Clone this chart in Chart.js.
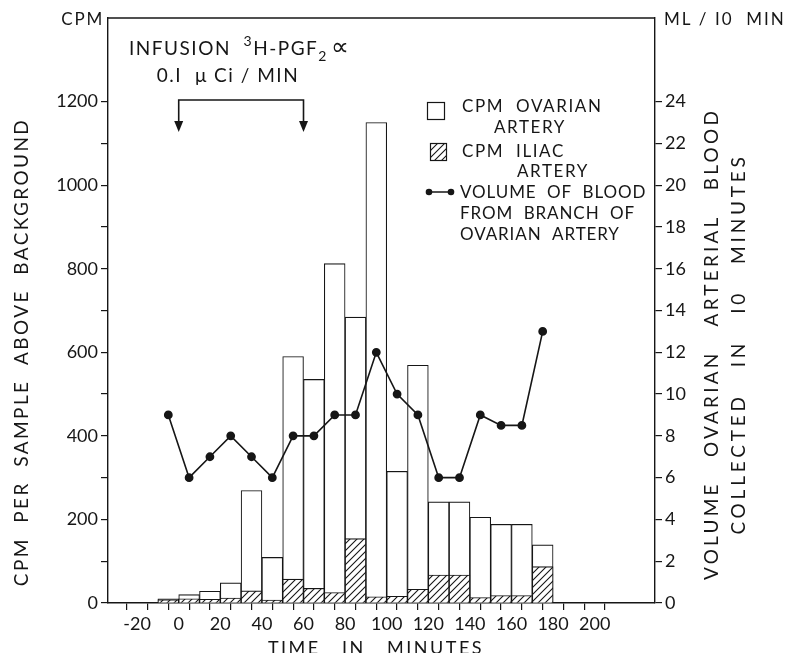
<!DOCTYPE html>
<html><head><meta charset="utf-8">
<script src="https://cdn.jsdelivr.net/npm/chart.js@4/dist/chart.umd.min.js"></script>
<style>html,body{margin:0;padding:0;background:#fff}#wrap{width:790px;height:653px}</style>
</head><body><div id="wrap"><canvas id="c" width="790" height="653"></canvas></div>
<script>
// ---- data ----
const intervalMid = [-5,5,15,25,35,45,55,65,75,85,95,105,115,125,135,145,155,165,175];
const cpmOvarian  = [10,20,28,48,269,109,590,535,812,684,1150,315,569,242,242,205,188,188,139];
const cpmIliac    = [8,10,9,12,29,7,57,35,25,154,15,16,33,67,67,13,18,18,87];
const bloodVolume = [9,6,7,8,7,6,8,8,9,9,12,10,9,6,6,9,8.5,8.5,13];
const xTickValues = [-20,-10,0,10,20,30,40,50,60,70,80,90,100,110,120,130,140,150,160,170,180,190,200];
const xLabelValues = [-20,0,20,40,60,80,100,120,140,160,180,200];
const leftTickValues = [0,100,200,300,400,500,600,700,800,900,1000,1100,1200];
const leftLabelValues = [0,200,400,600,800,1000,1200];
const rightTickValues = [0,2,4,6,8,10,12,14,16,18,20,22,24];
const infusionMinutes = [0,60];
const legendLabels = [["CPM  OVARIAN","ARTERY"],["CPM  ILIAC","ARTERY"],["VOLUME  OF  BLOOD","FROM  BRANCH  OF","OVARIAN  ARTERY"]];

const INK = '#161616';
const FONT = 'Lato, "DejaVu Sans", sans-serif';

function hatchPattern(){
  const s = 7;
  const p = document.createElement('canvas'); p.width = s; p.height = s;
  const g = p.getContext('2d');
  g.fillStyle = '#fff'; g.fillRect(0,0,s,s);
  g.strokeStyle = INK; g.lineWidth = 1.1;
  g.beginPath();
  g.moveTo(-1, s+1); g.lineTo(s+1, -1);
  g.moveTo(-1, 1); g.lineTo(1, -1);
  g.moveTo(s-1, s+1); g.lineTo(s+1, s-1);
  g.stroke();
  return g.createPattern(p, 'repeat');
}
const HATCH = hatchPattern();

const axisCommon = {
  border: {display:true, color: INK, width: 1.4},
  grid: {display:true, drawOnChartArea:false, drawTicks:true, tickLength:7, color: INK, lineWidth:1.2},
};

function drawText(ctx, txt, x, y, size, align, spacing){
  ctx.font = size + 'px ' + FONT;
  ctx.letterSpacing = (spacing||0) + 'px';
  ctx.textAlign = align || 'left';
  ctx.textBaseline = 'alphabetic';
  ctx.fillText(txt, x, y);
}

const decor = {
  id: 'decor',
  afterDraw(chart){
    const ctx = chart.ctx, a = chart.chartArea, xs = chart.scales.x;
    ctx.save();
    ctx.fillStyle = INK; ctx.strokeStyle = INK;
    // top frame
    ctx.lineWidth = 1.4;
    ctx.beginPath(); ctx.moveTo(a.left, a.top); ctx.lineTo(a.right, a.top); ctx.stroke();
    // axis unit labels
    drawText(ctx, 'CPM', a.left - 4, a.top + 7, 17, 'right', 1.8);
    drawText(ctx, 'ML / I0  MIN', a.right + 9, a.top + 7, 17, 'left', 2);
    // left title
    ctx.save(); ctx.translate(28, 352); ctx.rotate(-Math.PI/2);
    drawText(ctx, 'CPM  PER  SAMPLE  ABOVE  BACKGROUND', 0, 0, 19, 'center', 2.4);
    ctx.restore();
    // right title
    ctx.save(); ctx.translate(718, 344); ctx.rotate(-Math.PI/2);
    drawText(ctx, 'VOLUME   OVARIAN   ARTERIAL   BLOOD', 0, 0, 19, 'center', 3.2);
    drawText(ctx, 'COLLECTED   IN   I0   MINUTES', 0, 27, 19, 'center', 3.8);
    ctx.restore();
    // x title
    drawText(ctx, 'TIME   IN   MINUTES', 376, 654, 18, 'center', 2.5);
    // infusion annotation
    let x = 129, y = 55;
    const parts = [['INFUSION  ',19,0],['3',14,-9],['H-PGF',19,0],['2',14,6],['\u221D',25,0]];
    for (const [t,sz,dy] of parts){
      ctx.font = sz + 'px ' + FONT; ctx.letterSpacing = '1.5px'; ctx.textAlign='left';
      ctx.fillText(t, x, y + dy);
      x += ctx.measureText(t).width + (t==='2'?3:0);
    }
    drawText(ctx, '0.I  \u03BC Ci / MIN', 228, 82, 19, 'center', 1.5);
    const x0 = xs.getPixelForValue(infusionMinutes[0]);
    const x1 = xs.getPixelForValue(infusionMinutes[1]);
    ctx.lineWidth = 1.6;
    ctx.beginPath();
    ctx.moveTo(x0, 123); ctx.lineTo(x0, 100); ctx.lineTo(x1, 100); ctx.lineTo(x1, 123);
    ctx.stroke();
    for (const xp of [x0, x1]){
      ctx.beginPath(); ctx.moveTo(xp-4.5, 121); ctx.lineTo(xp+4.5, 121); ctx.lineTo(xp, 132); ctx.closePath(); ctx.fill();
    }
    // legend
    ctx.lineWidth = 1.2;
    ctx.fillStyle = '#fff'; ctx.fillRect(427, 102, 17, 17);
    ctx.strokeRect(427.5, 102.5, 17, 17);
    ctx.fillStyle = HATCH; ctx.fillRect(430, 143, 16, 17);
    ctx.strokeRect(430.5, 143.5, 16, 17);
    ctx.fillStyle = INK;
    ctx.lineWidth = 1.5;
    ctx.beginPath(); ctx.moveTo(429, 192); ctx.lineTo(451, 192); ctx.stroke();
    for (const cx of [429, 451]){ ctx.beginPath(); ctx.arc(cx, 192, 3.3, 0, Math.PI*2); ctx.fill(); }
    drawText(ctx, legendLabels[0][0], 462, 112, 17, 'left', 1.6);
    drawText(ctx, legendLabels[0][1], 494, 133, 17, 'left', 1.6);
    drawText(ctx, legendLabels[1][0], 462, 157, 17, 'left', 1.6);
    drawText(ctx, legendLabels[1][1], 517, 177, 17, 'left', 1.6);
    drawText(ctx, legendLabels[2][0], 460, 198, 17, 'left', 0.9);
    drawText(ctx, legendLabels[2][1], 460, 219, 17, 'left', 0.9);
    drawText(ctx, legendLabels[2][2], 460, 240, 17, 'left', 0.9);
    ctx.restore();
  }
};

const pts = (ys) => intervalMid.map((t,i) => ({x:t, y:ys[i]}));

new Chart(document.getElementById('c'), {
  type: 'bar',
  data: {
    datasets: [
      {type:'line', label:'Volume of blood', data: pts(bloodVolume), yAxisID:'y1', xAxisID:'x',
       borderColor: INK, borderWidth:1.6, pointRadius:3.6, pointBackgroundColor: INK, pointBorderColor: INK,
       tension:0, order:0},
      {label:'CPM iliac artery', data: pts(cpmIliac), yAxisID:'y', xAxisID:'x',
       backgroundColor: HATCH, borderColor: INK, borderWidth:1.1, grouped:false,
       barPercentage:1, categoryPercentage:1, order:1},
      {label:'CPM ovarian artery', data: pts(cpmOvarian), yAxisID:'y', xAxisID:'x',
       backgroundColor:'#fff', borderColor: INK, borderWidth:1.1, grouped:false,
       barPercentage:1, categoryPercentage:1, order:2}
    ]
  },
  options: {
    responsive:false, animation:false, devicePixelRatio:1,
    layout:{padding:{top:18,left:0,right:0,bottom:0}},
    plugins:{legend:{display:false}, tooltip:{enabled:false}},
    font:{family:FONT},
    scales: {
      x: Object.assign({}, axisCommon, {
        type:'linear', position:'bottom', min:-34, max:229, offset:false,
        afterBuildTicks(s){ s.ticks = xTickValues.map(v=>({value:v})); },
        afterFit(s){ s.height = 50; },
        ticks:{color:INK, font:{size:18, family:FONT}, padding:3, maxRotation:0, autoSkip:false,
          callback:(v)=> xLabelValues.includes(v) ? String(v) : ''}
      }),
      y: Object.assign({}, axisCommon, {
        type:'linear', position:'left', min:0, max:1400,
        afterBuildTicks(s){ s.ticks = leftTickValues.map(v=>({value:v})); },
        afterFit(s){ s.width = 108; },
        ticks:{color:INK, font:{size:18, family:FONT}, padding:3, autoSkip:false,
          callback:(v)=> leftLabelValues.includes(v) ? String(v) : ''}
      }),
      y1: Object.assign({}, axisCommon, {
        type:'linear', position:'right', min:0, max:28,
        afterBuildTicks(s){ s.ticks = rightTickValues.map(v=>({value:v})); },
        afterFit(s){ s.width = 135; },
        ticks:{color:INK, font:{size:18, family:FONT}, padding:3, autoSkip:false,
          callback:(v)=> String(v)}
      })
    }
  },
  plugins:[decor]
});
</script></body></html>
